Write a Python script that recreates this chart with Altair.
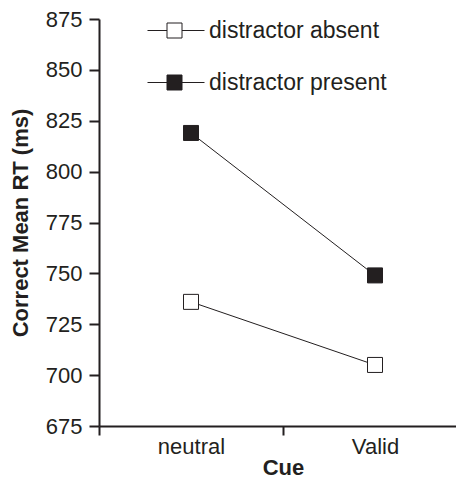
import altair as alt
import pandas as pd

cues = ["neutral", "Valid"]
conditions = ["distractor absent", "distractor present"]
absent_rt = [736, 705]
present_rt = [819, 749]
y_ticks = [675, 700, 725, 750, 775, 800, 825, 850, 875]

rows = []
for cond, vals in zip(conditions, [absent_rt, present_rt]):
    for c, v in zip(cues, vals):
        rows.append({"Cue": c, "cond": cond, "rt": v})
df = pd.DataFrame(rows)

INK = "#231f20"
FONT = "Liberation Sans"
FS = 22

x_enc = alt.X(
    "Cue:N", sort=cues, title="Cue",
    scale=alt.Scale(type="band", paddingInner=0, paddingOuter=0),
    axis=alt.Axis(tickBand="extent", labelAngle=0, tickSize=9, labelPadding=1,
                  titlePadding=0, domainWidth=2, tickWidth=2),
)
y_enc = alt.Y(
    "rt:Q", title="Correct Mean RT (ms)",
    scale=alt.Scale(domain=[675, 875], nice=False, zero=False),
    axis=alt.Axis(values=y_ticks, tickSize=10, labelPadding=7, titlePadding=13,
                  grid=False, domainWidth=2, tickWidth=2),
)

base = alt.Chart(df).encode(x=x_enc, y=y_enc, detail="cond:N")

lines = base.mark_line(color=INK, strokeWidth=1)
points = base.mark_point(shape="square", size=225, filled=True, opacity=1,
                         stroke=INK, strokeWidth=1).encode(
    fill=alt.Fill("cond:N", scale=alt.Scale(domain=conditions, range=["white", INK]),
                  legend=alt.Legend(
                      title=None, orient="none", legendX=60, legendY=-4,
                      symbolType="M-1.8,0H-0.5M0.5,0H2M-0.5,-0.5H0.5V0.5H-0.5Z",
                      symbolSize=900, symbolStrokeColor=INK, symbolStrokeWidth=1,
                      symbolOpacity=1, labelFont=FONT, labelFontSize=23,
                      labelColor=INK, rowPadding=24, labelOffset=19, labelLimit=0,
                  ))
)

chart = alt.layer(lines, points).properties(
    width=368, height=407,
    autosize=alt.AutoSizeParams(type="none"),
    padding={"left": 91, "top": 11, "right": -11, "bottom": 56},
).configure_view(stroke=None).configure_axis(
    labelFont=FONT, titleFont=FONT, labelFontSize=FS, titleFontSize=FS,
    labelColor=INK, titleColor=INK, domainColor=INK, tickColor=INK,
    titleFontWeight="bold",
)

chart.save("out.html", embed_options={"renderer": "svg", "actions": False})
